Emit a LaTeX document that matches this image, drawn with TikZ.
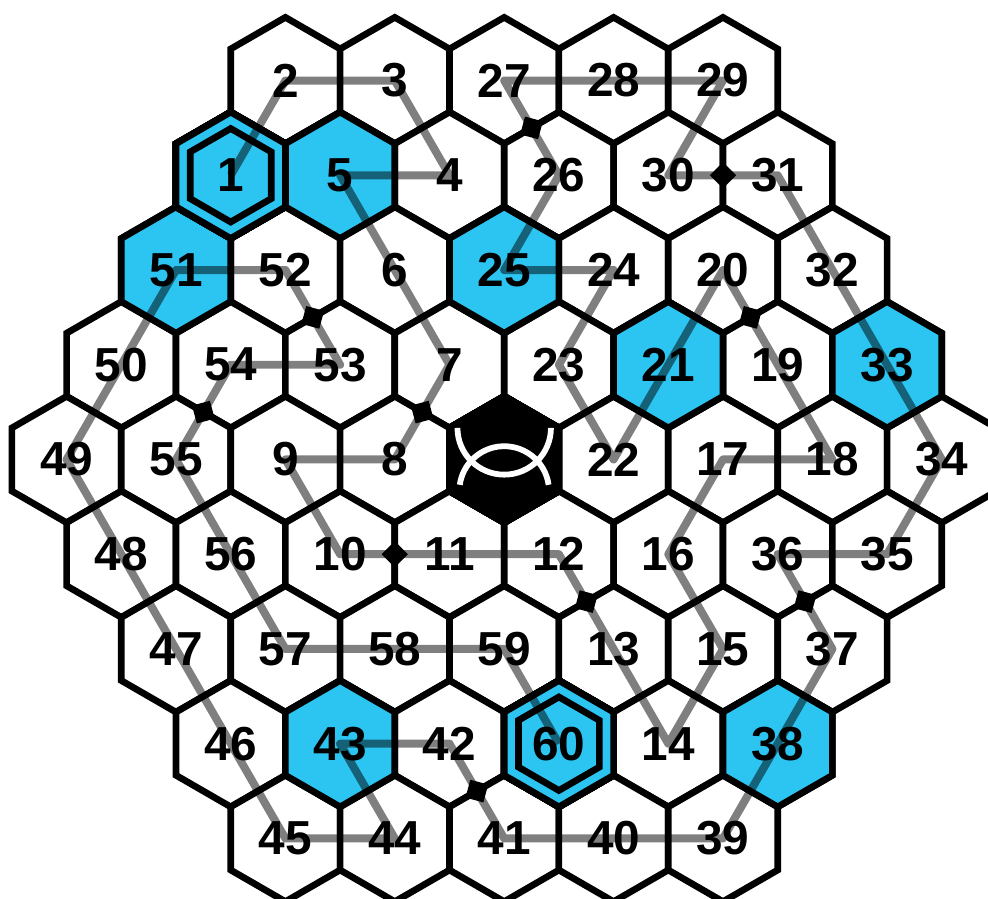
\documentclass[tikz,border=0pt]{standalone}
\usepackage{fontspec}
\setmainfont{Liberation Sans}
\usetikzlibrary{shapes.geometric}
\definecolor{cellblue}{RGB}{44,197,242}
\tikzset{
	cell/.style={draw=black, fill=white, line width=3pt, line join=miter},
	hot/.style={cell, fill=cellblue},
	trail/.style={draw=black, draw opacity=0.5, line width=3.6pt, line join=round},
	joint/.style={diamond, fill=black, inner sep=0pt, minimum width=0.42cm, minimum height=0.42cm},
	num/.style={font=\fontsize{21.5}{24}\selectfont\bfseries, inner sep=0pt},
	emblem/.style={draw=white, line width=2.6pt}
}
\newcommand{\hexcell}[3][cell]{\draw[#1] (#2) ++(90:#3) -- ++(210:#3) -- ++(270:#3) -- ++(330:#3) -- ++(30:#3) -- ++(90:#3) -- cycle;}
\begin{document}
\begin{tikzpicture}[line cap=butt]
	\useasboundingbox (-7.983,-6.943) rectangle (7.660,7.275);
	% cells, row by row
	\foreach \r/\qs/\row in {-4/0/{2,3,27,28,29}, -3/-1/{1,5,4,26,30,31}, -2/-2/{51,52,6,25,24,20,32}, -1/-3/{50,54,53,7,23,21,19,33}, 0/-4/{49,55,9,8,C,22,17,18,34}, 1/-4/{48,56,10,11,12,16,36,35}, 2/-4/{47,57,58,59,13,15,37}, 3/-4/{46,43,42,60,14,38}, 4/-4/{45,44,41,40,39}}
	\foreach \n [count=\k from 0] in \row {
		\coordinate (c\n) at ({sqrt(3)*(\qs+\k+(\r)/2)}, {-1.5*(\r)});
		\hexcell{c\n}{1}
	}
	% blue cells
	\foreach \n in {5,51,25,21,33,43,38}
	\hexcell[hot]{c\n}{1}
	\foreach \n in {1,60} {
		\hexcell[hot]{c\n}{1}
		\hexcell[hot]{c\n}{0.74}
	}
	% centre
	\hexcell[cell, fill=black]{cC}{1}
	\draw[emblem] ([shift={(-0.74,0.5)}]cC) arc[start angle=180, end angle=360, radius=0.74];
	\draw[emblem] ([shift={(0.703,-0.401)}]cC) arc[start angle=8, end angle=172, radius=0.71];
	% path
	\draw[trail] (c1) \foreach \i in {2,...,60} { -- (c\i) };
	\foreach \a/\b in {7/8,10/11,12/13,19/20,26/27,30/31,36/37,41/42,52/53,54/55}
	\path (c\a) -- node[joint, sloped] (j\a) {} (c\b);
	\foreach \n in {1,...,60}
	\node[num] (n\n) at (c\n) {\n};
\end{tikzpicture}
\end{document}
